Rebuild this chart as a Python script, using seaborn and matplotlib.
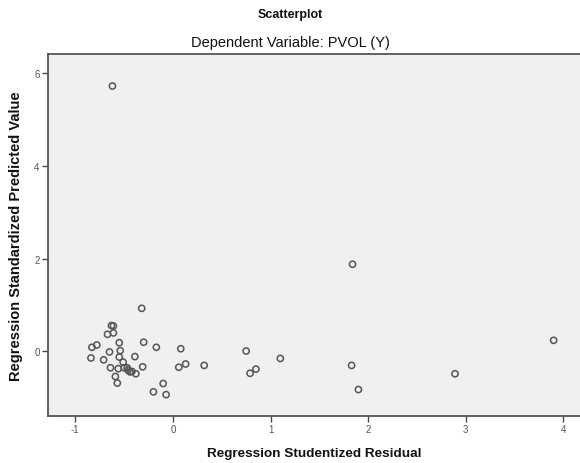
import matplotlib
matplotlib.use("Agg")
import matplotlib.pyplot as plt
import seaborn as sns
import pandas as pd

residual = [-0.62, -0.32, -0.63, -0.61, -0.67, -0.61, -0.55, -0.30, -0.83, -0.78,
            -0.17, 0.08, -0.65, -0.54, -0.84, -0.71, -0.55, -0.39, -0.51, -0.64,
            -0.56, -0.50, -0.47, -0.46, -0.44, -0.42, -0.38, -0.31, 0.06, 0.13,
            0.32, -0.59, -0.57, -0.10, -0.20, -0.07, 0.75, 0.79, 0.85, 1.84,
            3.90, 1.10, 1.83, 1.90, 2.89]
predicted = [5.72, 0.93, 0.56, 0.55, 0.37, 0.40, 0.19, 0.20, 0.09, 0.14,
             0.09, 0.06, -0.01, 0.02, -0.14, -0.18, -0.12, -0.11, -0.23, -0.35,
             -0.37, -0.35, -0.35, -0.40, -0.44, -0.43, -0.48, -0.33, -0.34, -0.27,
             -0.30, -0.54, -0.68, -0.69, -0.87, -0.93, 0.01, -0.47, -0.38, 1.88,
             0.24, -0.15, -0.30, -0.82, -0.48]
x_ticks = [-1, 0, 1, 2, 3, 4]
y_ticks = [0, 2, 4, 6]

df = pd.DataFrame({"resid": residual, "pred": predicted})

sns.set_style("white")
plt.rcParams['font.family'] = ['Liberation Sans', 'DejaVu Sans']
plt.rcParams['axes.unicode_minus'] = False

fig = plt.figure(figsize=(5.8, 4.64), dpi=100)
ax = fig.add_axes([48/580, 1 - 417/464, 1 - 48/580, (417 - 55)/464])
ax.set_facecolor('#f0f0f0')

sns.scatterplot(data=df, x="resid", y="pred", ax=ax, marker='o', s=20,
                facecolor='none', edgecolor='#555555', linewidth=1.1)

ax.set_xlim(-1.28, 4.17)
ax.set_ylim(-1.39, 6.41)
ax.set_xticks(x_ticks)
ax.set_yticks(y_ticks)
ax.tick_params(axis='both', direction='out', length=4, width=1, color='#444444',
               labelsize=7, labelcolor='#555555', pad=2, bottom=True, left=True)

for side in ['left', 'bottom', 'top']:
    ax.spines[side].set_color('#555555')
    ax.spines[side].set_linewidth(1.3)
ax.spines['right'].set_visible(False)

ax.set_xlabel("Regression Studentized Residual", fontsize=9.7, fontweight='bold',
              color='#111111', labelpad=9)
ax.set_ylabel("Regression Standardized Predicted Value", fontsize=10.5, fontweight='bold',
              color='#111111', labelpad=8)

fig.text(0.5, 1 - 15/464, "Scatterplot", ha='center', va='center',
         fontsize=9, fontweight='bold', color='#111111')
fig.text(0.5, 1 - 43/464, "Dependent Variable: PVOL (Y)", ha='center', va='center',
         fontsize=10.5, fontweight='medium', color='#111111')

fig.savefig("out.png", dpi=100)
